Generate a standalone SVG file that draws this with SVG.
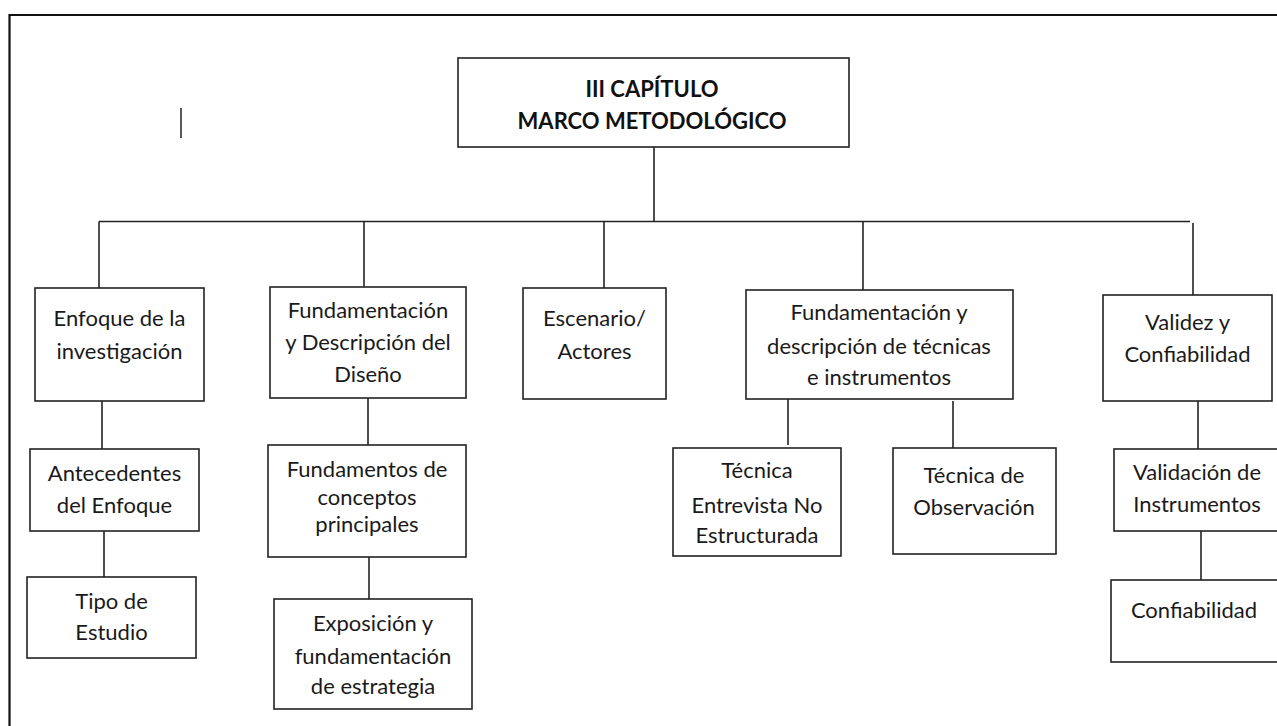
<svg xmlns="http://www.w3.org/2000/svg" width="1277" height="726" viewBox="0 0 1277 726">
<style>
.box{fill:#fff;stroke:#222;stroke-width:1.6}
.t{font-family:Lato,"Open Sans","Liberation Sans",sans-serif;font-size:22px;fill:#1a1a1a;text-anchor:middle}
.tb{font-family:Lato,"Open Sans","Liberation Sans",sans-serif;font-size:22px;font-weight:bold;fill:#111;text-anchor:middle}
.c{stroke:#222;stroke-width:1.6;fill:none}
</style>
<rect x="0" y="0" width="1277" height="726" fill="#fff"/>
<g id="frame">
<path d="M9.5 726 V15 H1277" fill="none" stroke="#111" stroke-width="2.2"/>
<line x1="181" y1="108" x2="181" y2="138" stroke="#222" stroke-width="1.5"/>
</g>
<g id="connectors">
<line class="c" x1="654" y1="147" x2="654" y2="221.5"/>
<line class="c" x1="99" y1="221.5" x2="1190" y2="221.5"/>
<line class="c" x1="99" y1="221.5" x2="99" y2="288"/>
<line class="c" x1="364" y1="221.5" x2="364" y2="287"/>
<line class="c" x1="604" y1="221.5" x2="604" y2="288"/>
<line class="c" x1="863" y1="221.5" x2="863" y2="290"/>
<line class="c" x1="1193" y1="223" x2="1193" y2="295"/>
<line class="c" x1="102" y1="401" x2="102" y2="449"/>
<line class="c" x1="104" y1="531" x2="104" y2="577"/>
<line class="c" x1="368" y1="398" x2="368" y2="445"/>
<line class="c" x1="369" y1="557" x2="369" y2="599"/>
<line class="c" x1="788" y1="399" x2="788" y2="445"/>
<line class="c" x1="953" y1="401" x2="953" y2="448"/>
<line class="c" x1="1198" y1="401" x2="1198" y2="449"/>
<line class="c" x1="1201" y1="531" x2="1201" y2="580"/>
</g>
<g id="n-title">
<rect class="box" x="458" y="58" width="391" height="89"/>
<text class="tb" x="652" y="97">III CAPÍTULO</text>
<text class="tb" x="652" y="129">MARCO METODOLÓGICO</text>
</g>
<g id="n-enfoque">
<rect class="box" x="35" y="288" width="169" height="113"/>
<text class="t" x="119.5" y="326">Enfoque de la</text>
<text class="t" x="119.5" y="359">investigación</text>
</g>
<g id="n-diseno">
<rect class="box" x="270" y="287" width="196" height="111"/>
<text class="t" x="368" y="318">Fundamentación</text>
<text class="t" x="368" y="350">y Descripción del</text>
<text class="t" x="368" y="382">Diseño</text>
</g>
<g id="n-escenario">
<rect class="box" x="523" y="288" width="143" height="111"/>
<text class="t" x="594.5" y="326">Escenario/</text>
<text class="t" x="594.5" y="359">Actores</text>
</g>
<g id="n-tecnicas">
<rect class="box" x="746" y="290" width="267" height="109"/>
<text class="t" x="879" y="320">Fundamentación y</text>
<text class="t" x="879" y="354">descripción de técnicas</text>
<text class="t" x="879" y="385">e instrumentos</text>
</g>
<g id="n-validez">
<rect class="box" x="1103" y="295" width="169" height="106"/>
<text class="t" x="1187.5" y="330">Validez y</text>
<text class="t" x="1187.5" y="362">Confiabilidad</text>
</g>
<g id="n-antecedentes">
<rect class="box" x="30" y="449" width="169" height="82"/>
<text class="t" x="114.5" y="481">Antecedentes</text>
<text class="t" x="114.5" y="513">del Enfoque</text>
</g>
<g id="n-tipo">
<rect class="box" x="27" y="577" width="169" height="81"/>
<text class="t" x="111.5" y="609">Tipo de</text>
<text class="t" x="111.5" y="640">Estudio</text>
</g>
<g id="n-fundamentos">
<rect class="box" x="268" y="445" width="198" height="112"/>
<text class="t" x="367" y="477">Fundamentos de</text>
<text class="t" x="367" y="505">conceptos</text>
<text class="t" x="367" y="532">principales</text>
</g>
<g id="n-exposicion">
<rect class="box" x="274" y="599" width="198" height="110"/>
<text class="t" x="373" y="631">Exposición y</text>
<text class="t" x="373" y="664">fundamentación</text>
<text class="t" x="373" y="694">de estrategia</text>
</g>
<g id="n-entrevista">
<rect class="box" x="673" y="448" width="168" height="108"/>
<text class="t" x="757" y="478">Técnica</text>
<text class="t" x="757" y="513">Entrevista No</text>
<text class="t" x="757" y="543">Estructurada</text>
</g>
<g id="n-observacion">
<rect class="box" x="893" y="448" width="163" height="106"/>
<text class="t" x="974" y="483">Técnica de</text>
<text class="t" x="974" y="515">Observación</text>
</g>
<g id="n-validacion">
<rect class="box" x="1114" y="449" width="180" height="82"/>
<text class="t" x="1197" y="480">Validación de</text>
<text class="t" x="1197" y="512">Instrumentos</text>
</g>
<g id="n-confiabilidad">
<rect class="box" x="1111" y="580" width="180" height="82"/>
<text class="t" x="1194" y="618">Confiabilidad</text>
</g>
</svg>
